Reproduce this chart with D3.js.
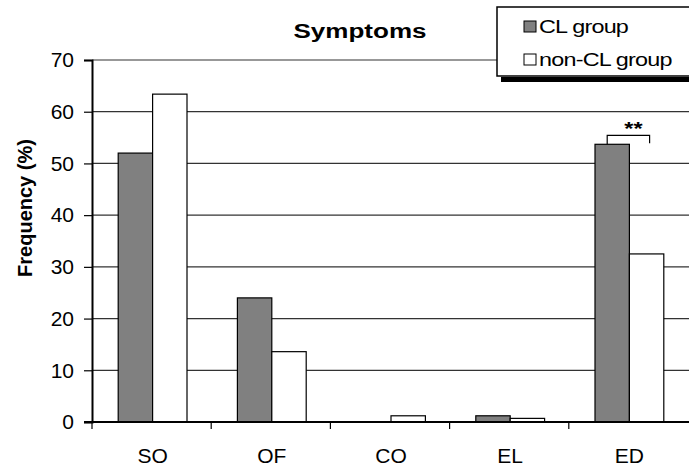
<!DOCTYPE html>
<html>
<head>
<meta charset="utf-8">
<script src="https://cdn.jsdelivr.net/npm/d3@7"></script>
<style>
    body { margin: 0; background: #fff; }
    text { font-family: Arial, "Liberation Sans", sans-serif; fill: #000; }
</style>
</head>
<body>
<div class="chart"></div>
<script>
const categories = ['SO', 'OF', 'CO', 'EL', 'ED'];
const seriesNames = ['CL group', 'non-CL group'];
const clGroup = [52.0, 24.0, 0, 1.2, 53.7];
const nonClGroup = [63.4, 13.6, 1.2, 0.7, 32.5];
const yTicks = [0, 10, 20, 30, 40, 50, 60, 70];
const seriesColors = ['#808080', '#ffffff'];

function build() {
    let svgW = 689,
        svgH = 467,
        left = 92,
        right = 688,
        top = 60,
        bottom = 422,
        barW = 34.4;

    const svg = d3.select(".chart")
        .append("svg")
        .attr("width", svgW)
        .attr("height", svgH);

    const x = d3.scaleBand().domain(categories).range([left, right]);
    const y = d3.scaleLinear().domain([0, 70]).range([bottom, top]);
    const xs = d3.scaleBand().domain(seriesNames).range([0, barW * 2]);

    // gridlines
    svg.selectAll("line.grid")
        .data(yTicks.slice(1))
        .enter()
        .append("line")
        .attr("class", "grid")
        .attr("x1", left)
        .attr("x2", right + 2)
        .attr("y1", d => y(d))
        .attr("y2", d => y(d))
        .attr("stroke", "#333")
        .attr("stroke-width", 1.2);

    // bars
    const rows = categories.map((c, i) => [
        {cat: c, s: seriesNames[0], v: clGroup[i]},
        {cat: c, s: seriesNames[1], v: nonClGroup[i]}
    ]).flat();

    svg.selectAll("rect.bar")
        .data(rows.filter(d => d.v > 0))
        .enter()
        .append("rect")
        .attr("class", "bar")
        .attr("x", d => x(d.cat) + (x.bandwidth() - barW * 2) / 2 + 1 + xs(d.s))
        .attr("y", d => y(d.v))
        .attr("width", xs.bandwidth())
        .attr("height", d => y(0) - y(d.v))
        .attr("fill", d => d.s === seriesNames[0] ? seriesColors[0] : seriesColors[1])
        .attr("stroke", "#000")
        .attr("stroke-width", 1.2);

    // y axis
    const yAxis = svg.append("g")
        .attr("transform", `translate(${left},0)`)
        .call(d3.axisLeft(y).tickValues(yTicks).tickSize(8).tickPadding(10));
    yAxis.select(".domain").attr("stroke", "#000").attr("stroke-width", 2);
    yAxis.selectAll(".tick line").attr("stroke", "#000").attr("stroke-width", 1.2);
    yAxis.selectAll(".tick text")
        .attr("font-size", 21)
        .attr("font-family", "Arial, 'Liberation Sans', sans-serif")
        .attr("fill", "#000");

    // x axis
    const xAxis = svg.append("g")
        .attr("transform", `translate(0,${bottom})`);
    xAxis.append("line")
        .attr("x1", left - 8)
        .attr("x2", svgW)
        .attr("y1", 0)
        .attr("y2", 0)
        .attr("stroke", "#000")
        .attr("stroke-width", 2);
    xAxis.selectAll("line.tk")
        .data(categories)
        .enter()
        .append("line")
        .attr("class", "tk")
        .attr("x1", d => x(d))
        .attr("x2", d => x(d))
        .attr("y1", 0)
        .attr("y2", 7)
        .attr("stroke", "#000")
        .attr("stroke-width", 1.2);
    xAxis.selectAll("text")
        .data(categories)
        .enter()
        .append("text")
        .attr("x", d => x(d) + x.bandwidth() / 2 + 1)
        .attr("y", 41)
        .attr("text-anchor", "middle")
        .attr("font-size", 21)
        .text(d => d);

    // y label
    svg.append("text")
        .attr("transform", "translate(32,208) rotate(-90)")
        .attr("text-anchor", "middle")
        .attr("font-size", 20)
        .attr("font-weight", "bold")
        .text("Frequency (%)");

    // title
    svg.append("text")
        .attr("transform", "translate(360,38) scale(1.24,1)")
        .attr("text-anchor", "middle")
        .attr("font-size", 21)
        .attr("font-weight", "bold")
        .text("Symptoms");

    // significance bracket on ED
    let ed = categories.indexOf('ED');
    let bx1 = x('ED') + (x.bandwidth() - barW * 2) / 2 + 1 + xs(seriesNames[0]) + xs.bandwidth() / 2 - 5,
        bx2 = x('ED') + (x.bandwidth() - barW * 2) / 2 + 1 + xs(seriesNames[1]) + xs.bandwidth() / 2 + 3,
        bTop = y(clGroup[ed]) - 9;
    svg.append("path")
        .attr("d", `M${bx1},${y(clGroup[ed])}V${bTop}H${bx2}V${bTop + 8}`)
        .attr("fill", "none")
        .attr("stroke", "#000")
        .attr("stroke-width", 1.2);
    svg.append("text")
        .attr("transform", `translate(${(bx1 + bx2) / 2 + 5},${bTop}) scale(1.3,1)`)
        .attr("text-anchor", "middle")
        .attr("font-size", 18)
        .attr("font-weight", "bold")
        .text("**");

    // legend
    const legend = svg.append("g");
    legend.append("rect")
        .attr("x", 501)
        .attr("y", 77)
        .attr("width", 200)
        .attr("height", 5)
        .attr("fill", "#000");
    legend.append("rect")
        .attr("x", 497)
        .attr("y", 7)
        .attr("width", 200)
        .attr("height", 69)
        .attr("fill", "#fff")
        .attr("stroke", "#000")
        .attr("stroke-width", 1.5);
    legend.selectAll("rect.sw")
        .data(seriesNames)
        .enter()
        .append("rect")
        .attr("class", "sw")
        .attr("x", 524)
        .attr("y", (d, i) => 21 + i * 33)
        .attr("width", 12)
        .attr("height", 11)
        .attr("fill", (d, i) => seriesColors[i])
        .attr("stroke", "#000")
        .attr("stroke-width", 1);
    legend.selectAll("text")
        .data(seriesNames)
        .enter()
        .append("text")
        .attr("transform", (d, i) => `translate(539,${33 + i * 33}) scale(1.3,1)`)
        .attr("font-size", 18)
        .attr("letter-spacing", -0.6)
        .text(d => d);
}

build();
</script>
</body>
</html>
